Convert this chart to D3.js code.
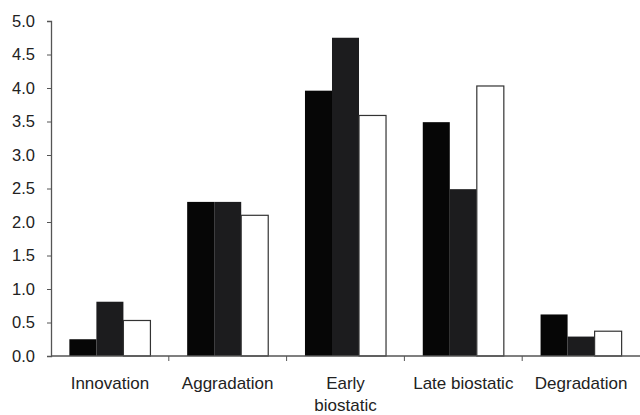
<!DOCTYPE html>
<html>
<head>
<meta charset="utf-8">
<script src="https://cdn.jsdelivr.net/npm/d3@7"></script>
<style>
  body { margin: 0; background: #fff; }
  svg { display: block; font-family: "Liberation Sans", Arial, sans-serif; }
</style>
</head>
<body>
<div id="chart"></div>
<script>
"use strict";

// stages along the x axis
var categories = ["Innovation", "Aggradation", "Early biostatic", "Late biostatic", "Degradation"];
var series = ["s1", "s2", "s3"];
// values
var s1Values = [0.25, 2.30, 3.96, 3.49, 0.62];
var s2Values = [0.81, 2.30, 4.75, 2.49, 0.29];
var s3Values = [0.53, 2.10, 3.59, 4.03, 0.37];
var yTicks = [0, 0.5, 1, 1.5, 2, 2.5, 3, 3.5, 4, 4.5, 5];

var W = 640, H = 415;
var margin = { top: 21, right: 0, bottom: 59, left: 51 };

var svg = d3.select("#chart").append("svg")
	.attr("width", W)
	.attr("height", H);

var x = d3.scaleBand()
	.domain(categories)
	.range([margin.left, W - margin.right])
	.paddingInner(0)
	.paddingOuter(0);

// three bars per stage, ~27px each
var xInner = d3.scaleBand()
	.domain(series)
	.range([0, x.bandwidth()])
	.paddingOuter(0.68)
	.paddingInner(0);

var y = d3.scaleLinear()
	.domain([0, 5])
	.range([H - margin.bottom, margin.top]);

var fills = { s1: "#060606", s2: "#1c1c1e", s3: "#ffffff" };

var rows = categories.map(function (c, i) {
	return { cat: c, vals: [s1Values[i], s2Values[i], s3Values[i]] };
});

var g = svg.selectAll("g.grp")
	.data(rows)
	.enter().append("g")
	.attr("class", "grp")
	.attr("transform", function (d) { return "translate(" + x(d.cat) + ",0)"; });

g.selectAll("rect")
	.data(function (d) {
		return d.vals.map(function (v, j) { return { key: series[j], v: v }; });
	})
	.enter().append("rect")
	.attr("x", function (d) { return xInner(d.key); })
	.attr("y", function (d) { return y(d.v); })
	.attr("width", xInner.bandwidth())
	.attr("height", function (d) { return y(0) - y(d.v); })
	.attr("fill", function (d) { return fills[d.key]; })
	.attr("stroke", function (d) { return d.key === "s3" ? "#333" : "none"; })
	.attr("stroke-width", 1.2);

// y axis
var yAxis = d3.axisLeft(y)
	.tickValues(yTicks)
	.tickFormat(d3.format(".1f"))
	.tickSize(4)
	.tickPadding(12);

var ya = svg.append("g")
	.attr("transform", "translate(" + margin.left + ",0)")
	.call(yAxis);
ya.select(".domain").attr("stroke", "#555").attr("stroke-width", 1.3);
ya.selectAll(".tick line").attr("stroke", "#555");
ya.selectAll("text")
	.attr("font-size", 16.5)
	.attr("fill", "#222")
	.attr("font-family", "Liberation Sans, Arial, sans-serif");

// x axis: ticks between categories
var xa = svg.append("g")
	.attr("transform", "translate(0," + y(0) + ")");
xa.append("line")
	.attr("x1", margin.left).attr("x2", W)
	.attr("stroke", "#555").attr("stroke-width", 1.3);
xa.selectAll("line.sep")
	.data(categories.slice(1))
	.enter().append("line")
	.attr("class", "sep")
	.attr("x1", function (d) { return x(d); })
	.attr("x2", function (d) { return x(d); })
	.attr("y1", 0).attr("y2", 5)
	.attr("stroke", "#555");

var labelLines = {
	"Early biostatic": ["Early", "biostatic"]
};

var lab = svg.selectAll("text.cat")
	.data(categories)
	.enter().append("text")
	.attr("class", "cat")
	.attr("x", function (d) { return x(d) + x.bandwidth() / 2; })
	.attr("y", y(0) + 33)
	.attr("text-anchor", "middle")
	.attr("font-size", 17)
	.attr("fill", "#222");

lab.each(function (d) {
	var lines = labelLines[d] || [d];
	var t = d3.select(this);
	lines.forEach(function (l, i) {
		t.append("tspan")
			.attr("x", x(d) + x.bandwidth() / 2)
			.attr("dy", i === 0 ? 0 : 22)
			.text(l);
	});
});
</script>
</body>
</html>
